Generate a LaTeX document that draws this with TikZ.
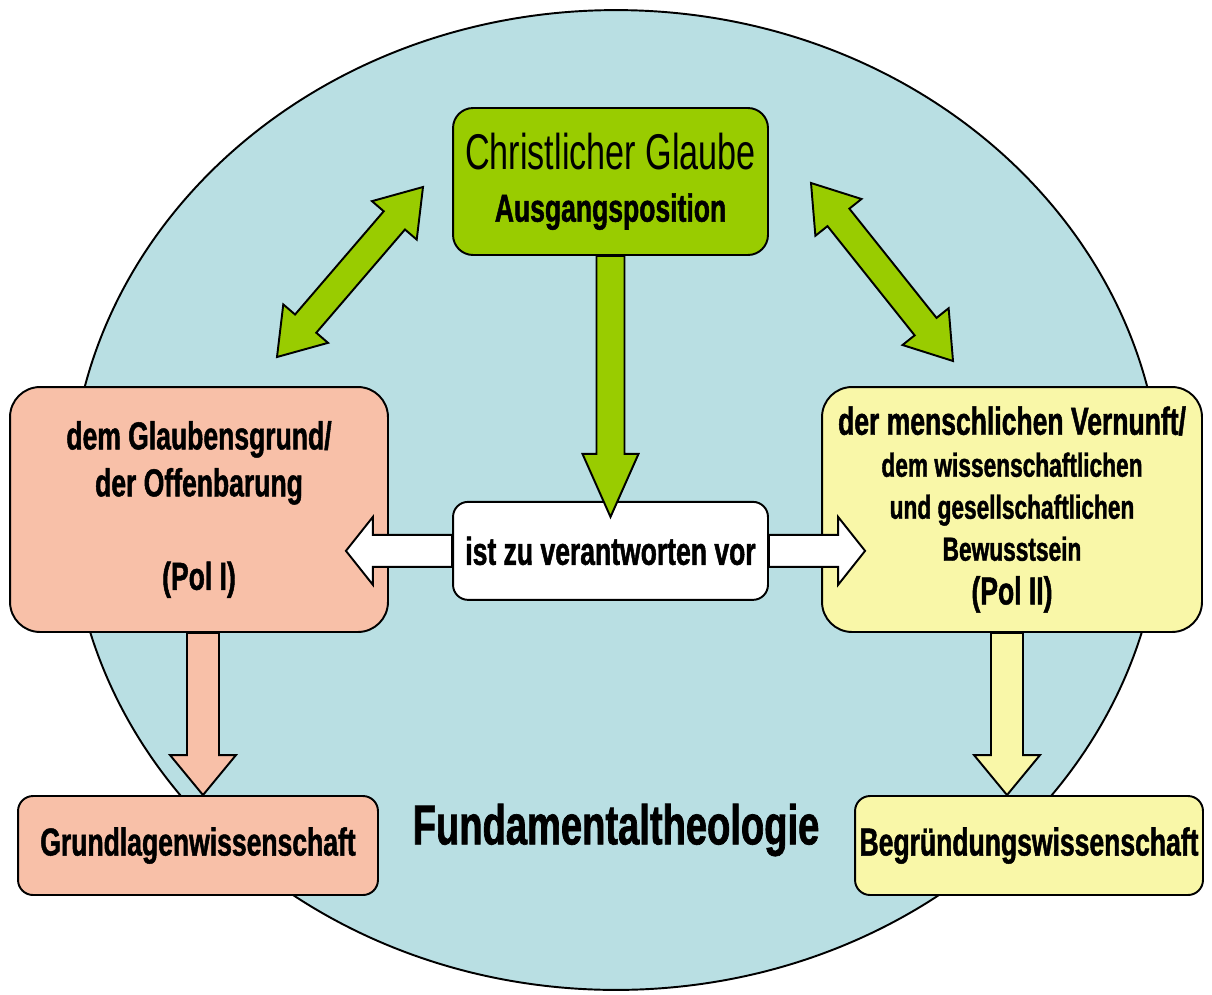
\documentclass[tikz,border=0pt]{standalone}
\usepackage{fontspec}
\usepackage{xcolor}
\usetikzlibrary{positioning}
\usetikzlibrary{calc}
\newfontfamily\narrowsans{Liberation Sans}[FakeStretch=0.68, BoldFeatures={FakeBold=1.2}]
\definecolor{fundblue}{RGB}{185,223,227}
\definecolor{glaubegreen}{RGB}{153,204,0}
\definecolor{polsalmon}{RGB}{248,192,168}
\definecolor{polyellow}{RGB}{249,247,168}
% block arrow: style, start, tip, shaft half width, head half width, head length
\newcommand{\blockarrow}[6]{%
	\coordinate (ba-c) at ($#3!#6!#2$);
	\draw[#1] ($#2!#4!90:#3$) -- ($(ba-c)!#4!90:#3$) -- ($(ba-c)!#5!90:#3$) -- #3
		-- ($(ba-c)!#5!-90:#3$) -- ($(ba-c)!#4!-90:#3$) -- ($#2!#4!-90:#3$) -- cycle;}
% same with a head at both ends
\newcommand{\dblockarrow}[6]{%
	\coordinate (da-a) at ($#2!#6!#3$);
	\coordinate (da-b) at ($#3!#6!#2$);
	\draw[#1] #2 -- ($(da-a)!#5!90:#3$) -- ($(da-a)!#4!90:#3$) -- ($(da-b)!#4!90:#3$) -- ($(da-b)!#5!90:#3$) -- #3
		-- ($(da-b)!#5!-90:#3$) -- ($(da-b)!#4!-90:#3$) -- ($(da-a)!#4!-90:#3$) -- ($(da-a)!#5!-90:#3$) -- cycle;}

\begin{document}
\begin{tikzpicture}[x=0.02cm, y=-0.02cm,
		polbox/.style={draw, line width=1.1pt, align=center, inner sep=0pt, font=\narrowsans\bfseries\fontsize{22.2}{26.7}\selectfont},
		blockline/.style={draw, line width=1.1pt}]
	\useasboundingbox (0,0) rectangle (1212,994);
	\draw[fill=fundblue, line width=1.1pt] (616,500) ellipse [x radius=10.92cm, y radius=9.8cm];

	\node[polbox, fill=glaubegreen, rounded corners=0.4cm, minimum width=6.3cm, minimum height=2.94cm] (glaube) at (610.5,181.5) {{\mdseries\fontsize{28.6}{34}\selectfont Christlicher Glaube}\\[3pt]Ausgangsposition};
	\node[polbox, fill=white, rounded corners=0.3cm, minimum width=6.3cm, minimum height=1.96cm] (vor) [below=4.9cm of glaube] {ist zu verantworten vor};
	\node[polbox, fill=polsalmon, rounded corners=0.6cm, minimum width=7.56cm, minimum height=4.9cm] (grund) at (199,509.5) {dem Glaubensgrund/\\der Offenbarung\\[26.5pt](Pol I)};
	\node[polbox, fill=polyellow, rounded corners=0.6cm, minimum width=7.6cm, minimum height=4.9cm, font=\narrowsans\bfseries\fontsize{22.2}{23.9}\selectfont] (vernunft) at (1012,509.5) {der menschlichen Vernunft/\\{\fontsize{19}{23.9}\selectfont dem wissenschaftlichen}\\{\fontsize{19}{23.9}\selectfont und gesellschaftlichen}\\{\fontsize{19}{23.9}\selectfont Bewusstsein}\\[1pt](Pol II)};
	\node[polbox, fill=polsalmon, rounded corners=0.3cm, minimum width=7.2cm, minimum height=1.98cm] (grundlagen) at (198,845.5) {Grundlagenwissenschaft};
	\node[polbox, fill=polyellow, rounded corners=0.3cm, minimum width=6.96cm, minimum height=1.98cm] (begruendung) at (1029,845.5) {Begründungswissenschaft};
	\node[font=\narrowsans\bfseries\fontsize{31.9}{38}\selectfont] (fundtheo) at (616,830) {Fundamentaltheologie};

	\coordinate (glaubetip) at ($(vor.north)+(0,16)$);
	\coordinate (grundtip) at ($(grund.east |- vor.west)+(-43,0)$);
	\coordinate (vernunfttip) at ($(vernunft.west |- vor.west)+(44,0)$);
	\coordinate (grundfoot) at ($(grund.south)+(4,0)$);
	\coordinate (vernunftfoot) at ($(vernunft.south)+(-5,0)$);
	\coordinate (grundlagentip) at (grundfoot |- grundlagen.north);
	\coordinate (begruendungtip) at (vernunftfoot |- begruendung.north);
	\coordinate (glaubeleft) at (423,187);
	\coordinate (grundtop) at (277,357);
	\coordinate (glauberight) at (811,183);
	\coordinate (vernunfttop) at (953,361);

	\blockarrow{blockline, fill=glaubegreen}{(glaube.south)}{(glaubetip)}{0.28cm}{0.56cm}{1.26cm}
	\blockarrow{blockline, fill=white}{(vor.west)}{(grundtip)}{0.32cm}{0.68cm}{0.54cm}
	\blockarrow{blockline, fill=white}{(vor.east)}{(vernunfttip)}{0.32cm}{0.68cm}{0.54cm}
	\blockarrow{blockline, fill=polsalmon}{(grundfoot)}{(grundlagentip)}{0.32cm}{0.66cm}{0.8cm}
	\blockarrow{blockline, fill=polyellow}{(vernunftfoot)}{(begruendungtip)}{0.32cm}{0.66cm}{0.8cm}
	\dblockarrow{blockline, fill=glaubegreen}{(grundtop)}{(glaubeleft)}{0.28cm}{0.59cm}{0.88cm}
	\dblockarrow{blockline, fill=glaubegreen}{(glauberight)}{(vernunfttop)}{0.28cm}{0.59cm}{0.88cm}
\end{tikzpicture}
\end{document}
